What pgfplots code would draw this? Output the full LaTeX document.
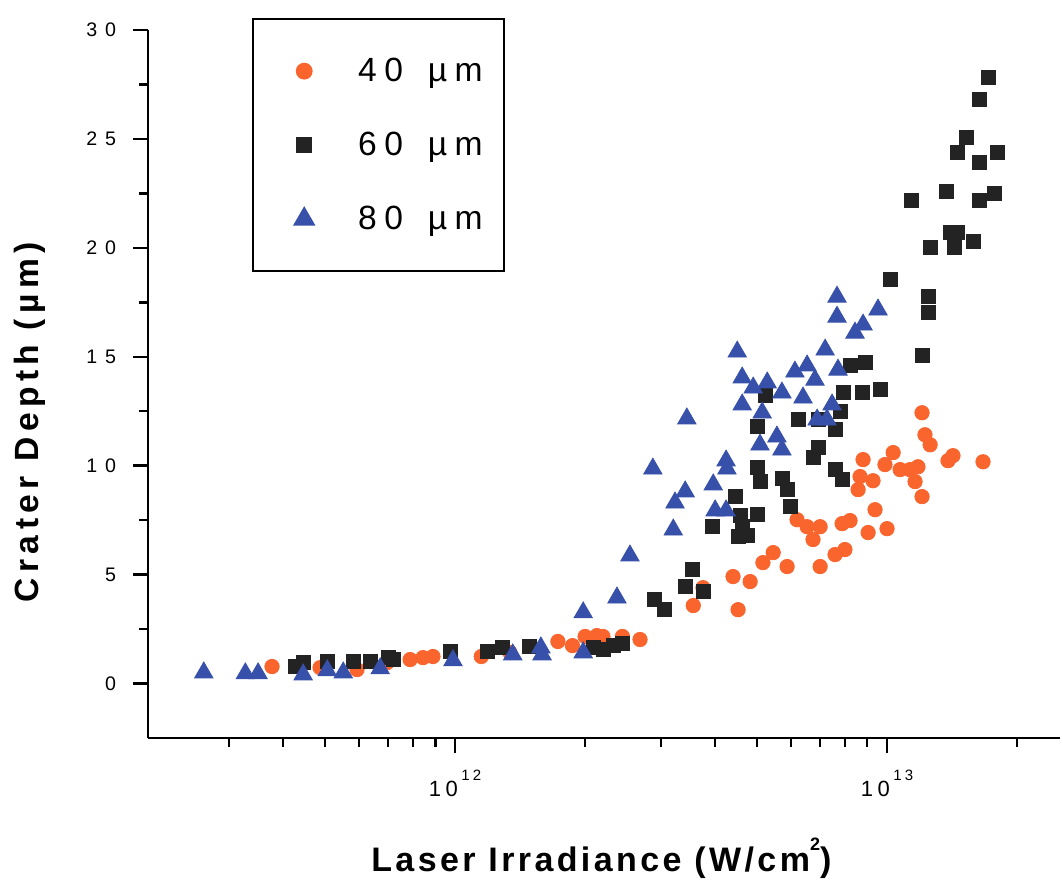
\documentclass[border=0pt]{standalone}
\usepackage{fontspec}
\setmainfont{Liberation Sans}
\newfontfamily\ytickfont[LetterSpace=40]{Liberation Sans}
\newfontfamily\xtickfont[LetterSpace=20]{Liberation Sans}
\newfontfamily\xlabfont[LetterSpace=10]{Liberation Sans}
\newfontfamily\ylabfont[LetterSpace=16]{Liberation Sans}
\newfontfamily\legfont[LetterSpace=22]{Liberation Sans}
\usepackage{pgfplots}
\pgfplotsset{compat=1.18}
\definecolor{c40}{RGB}{250,100,45}
\definecolor{c60}{RGB}{35,35,35}
\definecolor{c80}{RGB}{55,80,170}
\begin{document}
\begin{tikzpicture}
\begin{axis}[
  name=ax,
  scale only axis,
  width=456pt, height=354pt,
  xmode=log,
  xmin=1.947e11, xmax=2.515e13,
  ymin=-2.5, ymax=30,
  axis x line*=bottom, axis y line*=left,
  axis line style={line width=1.3pt},
  tick align=outside,
  major tick length=7.5pt, minor tick length=4.5pt,
  every tick/.style={line width=1.2pt, black},
  xtick={1e12,1e13},
  minor xtick={3e11,4e11,5e11,6e11,7e11,8e11,9e11,2e12,3e12,4e12,5e12,6e12,7e12,8e12,9e12,2e13},
  xticklabels={{\xtickfont 10\,\raisebox{1.35ex}{\fontsize{7.5}{8}\selectfont 12}},{\xtickfont 10\,\raisebox{1.35ex}{\fontsize{7.5}{8}\selectfont 13}}},
  x tick label style={font=\fontsize{11}{12}\selectfont, yshift=-5pt},
  ytick={0,5,10,15,20,25,30},
  yticklabels={0,5,10,15,20,25,30},
  minor ytick={2.5,7.5,12.5,17.5,22.5,27.5},
  y tick label style={font=\fontsize{9.8}{11}\selectfont\ytickfont, xshift=-5pt},
  xlabel={\xlabfont\bfseries Laser Irradiance (W/cm\raisebox{1.2ex}{\fontsize{9}{10}\selectfont 2})},
  xlabel style={at={(rel axis cs:0.497,-0.17)}, anchor=center, font=\fontsize{17}{19}\selectfont},
  ylabel={\ylabfont\bfseries Crater Depth (µm)},
  ylabel style={at={(rel axis cs:-0.13,0.446)}, anchor=center, font=\fontsize{16.8}{18}\selectfont},
  legend style={at={(rel axis cs:0.114,1.017)}, anchor=north west, draw=black, line width=1.2pt,
    font=\fontsize{16.8}{18}\selectfont\legfont, inner xsep=10.5pt, inner ysep=18pt, row sep=21pt,
    column sep=0pt, nodes={inner sep=0pt}},
  legend cell align=left,
  legend image code/.code={\path[draw=none,fill=none] (0pt,-8pt) rectangle (42pt,8pt); \path[#1] plot[only marks] coordinates {(15pt,0pt)};},
]
\addplot[only marks, mark=*, mark size=3.6pt, mark options={fill=c40, draw=c40}] coordinates {
(3.77e11,0.78) (4.87e11,0.73) (5.93e11,0.64) (6.96e11,0.96) (7.87e11,1.10) (8.43e11,1.19)
(8.89e11,1.24) (1.15e12,1.24) (1.34e12,1.42) (1.73e12,1.93) (1.87e12,1.74) (2.00e12,2.16)
(2.13e12,2.20) (2.20e12,2.16) (2.44e12,2.16) (2.68e12,2.02) (3.56e12,3.58) (3.75e12,4.40)
(4.52e12,3.39) (4.40e12,4.91) (4.82e12,4.68) (5.16e12,5.55) (5.45e12,6.01) (5.87e12,5.37)
(6.19e12,7.52) (6.53e12,7.20) (6.74e12,6.61) (7.00e12,7.20) (7.00e12,5.37) (7.58e12,5.92)
(7.99e12,6.15) (7.87e12,7.34) (8.21e12,7.48) (8.57e12,8.90) (8.66e12,9.50) (8.80e12,10.28)
(9.04e12,6.93) (9.38e12,7.98) (9.28e12,9.31) (1.00e13,7.11) (9.89e12,10.05) (1.033e13,10.60)
(1.072e13,9.82) (1.130e13,9.82) (1.161e13,9.27) (1.179e13,9.95) (1.205e13,8.58) (1.205e13,12.43)
(1.224e13,11.42) (1.258e13,10.96) (1.384e13,10.23) (1.421e13,10.46) (1.668e13,10.18)
};
\addlegendentry{40\hspace{12.5pt}µm}
\addplot[only marks, mark=square*, mark size=3.5pt, mark options={fill=c60, draw=c60}] coordinates {
(4.26e11,0.78) (4.45e11,0.96) (5.06e11,1.01) (5.81e11,1.01) (6.36e11,1.01) (7.00e11,1.19)
(7.19e11,1.10) (9.74e11,1.47) (1.19e12,1.47) (1.29e12,1.65) (1.49e12,1.70) (2.09e12,1.65)
(2.20e12,1.56) (2.32e12,1.74) (2.44e12,1.83) (2.90e12,3.85) (3.06e12,3.39) (3.41e12,4.45)
(3.54e12,5.23) (3.75e12,4.22) (3.94e12,7.20) (4.45e12,8.58) (4.57e12,7.71) (4.52e12,6.74)
(4.74e12,6.79) (4.62e12,7.20) (5.00e12,7.75) (5.00e12,9.91) (5.08e12,9.27) (5.00e12,11.79)
(5.22e12,13.21) (5.71e12,9.40) (5.87e12,8.90) (5.96e12,8.12) (6.22e12,12.11) (6.92e12,12.11)
(6.74e12,10.37) (6.92e12,10.83) (7.58e12,9.82) (7.87e12,9.36) (7.58e12,11.65) (7.78e12,12.48)
(7.91e12,13.35) (8.75e12,13.35) (9.63e12,13.49) (8.21e12,14.59) (8.89e12,14.72) (1.016e13,18.53)
(1.205e13,15.05) (1.244e13,17.75) (1.244e13,17.02) (1.136e13,22.16) (1.258e13,20.00) (1.399e13,20.73)
(1.452e13,20.73) (1.429e13,20.00) (1.582e13,20.28) (1.370e13,22.61) (1.452e13,24.36) (1.524e13,25.09)
(1.633e13,23.90) (1.633e13,22.16) (1.769e13,22.48) (1.797e13,24.36) (1.633e13,26.83) (1.713e13,27.84)
};
\addlegendentry{60\hspace{12.5pt}µm}
\addplot[only marks, mark=triangle*, mark size=5.3pt, mark options={fill=c80, draw=c80}] coordinates {
(2.62e11,0.50) (3.27e11,0.46) (3.50e11,0.46) (4.45e11,0.41) (5.06e11,0.60) (5.51e11,0.50)
(6.71e11,0.69) (9.89e11,1.06) (1.36e12,1.33) (1.58e12,1.65) (1.59e12,1.33) (1.98e12,1.42)
(1.98e12,3.26) (2.37e12,3.94) (2.54e12,5.87) (2.87e12,9.86) (3.20e12,7.06) (3.23e12,8.30)
(3.41e12,8.81) (3.44e12,12.16) (3.96e12,9.13) (4.00e12,7.94) (4.24e12,7.94) (4.24e12,10.23)
(4.26e12,9.86) (4.50e12,15.23) (4.62e12,14.04) (4.62e12,12.80) (4.90e12,13.58) (5.14e12,12.43)
(5.28e12,13.81) (5.08e12,10.96) (5.56e12,11.33) (5.71e12,10.73) (5.71e12,13.35) (6.12e12,14.31)
(6.39e12,13.12) (6.53e12,14.59) (6.81e12,13.94) (6.89e12,12.11) (7.26e12,12.11) (7.19e12,15.32)
(7.46e12,12.80) (7.70e12,14.40) (7.66e12,17.75) (7.66e12,16.83) (8.43e12,16.10) (8.80e12,16.47)
(9.53e12,17.16)
};
\addlegendentry{80\hspace{12.5pt}µm}
\end{axis}
\pgfresetboundingbox
\path[use as bounding box] ([xshift=-74pt,yshift=-72pt]ax.south west) rectangle ([xshift=1.5pt,yshift=15pt]ax.north east);
\end{tikzpicture}
\end{document}
